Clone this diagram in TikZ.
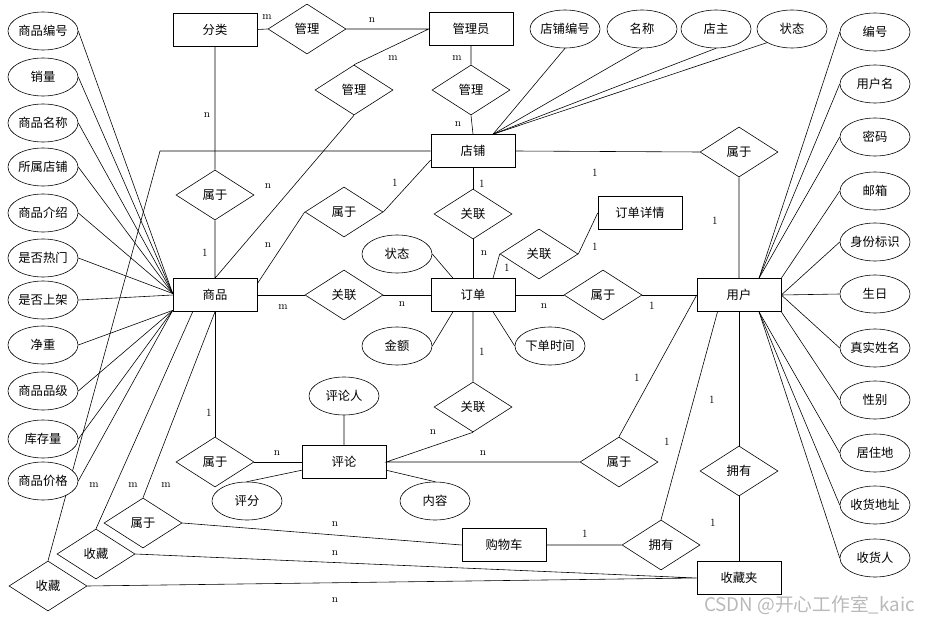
\documentclass[tikz,border=0pt]{standalone}
\usepackage{fontspec}
\newfontfamily\zhfont{Noto Sans CJK SC}
\usetikzlibrary{shapes.geometric}
\begin{document}
\begin{tikzpicture}[x=0.03cm, y=-0.03cm, line width=0.5pt,
    ent/.style={draw, fill=white, minimum width=2.52cm, minimum height=0.99cm, font=\zhfont\fontsize{10.5}{12}\selectfont},
    rel/.style={draw, diamond, fill=white, aspect=1.56, minimum width=2.34cm, minimum height=1.5cm, inner sep=0pt, font=\zhfont\fontsize{10.5}{12}\selectfont},
    attr/.style={draw, ellipse, fill=white, minimum width=2.1cm, minimum height=1.14cm, inner sep=0pt, font=\zhfont\fontsize{10.5}{12}\selectfont},
    lab/.style={font=\fontsize{9.5}{10}\selectfont, inner sep=0pt}]
  \useasboundingbox (0,0) rectangle (929,624);
  \foreach \x/\y/\t/\n in {215/29.5/分类/fenlei, 471/29/管理员/guanliyuan, 473/151/店铺/dianpu, 215/295/商品/shangpin, 473/295/订单/dingdan, 640/213/订单详情/xiangqing, 739/295/用户/yonghu, 344/462/评论/pinglun, 504/545/购物车/gouwuche, 739/578/收藏夹/shoucangjia}
    \node[ent] (\n) at (\x,\y) {\t};
  \foreach \x/\y/\t/\n in {307/29/管理/gl1, 354/90/管理/gl2, 471/90/管理/gl3, 215/195/属于/sy1, 344/212/属于/sy2, 473/214/关联/gx1, 539/254/关联/gx2, 344/295/关联/gx3, 603/295/属于/sy3, 739/152/属于/sy4, 473/407/关联/gx4, 215/462/属于/sy5, 619/462/属于/sy6, 739/471/拥有/yy1, 661/545/拥有/yy2, 143/523/属于/sy7, 96/554/收藏/sc1, 48/586/收藏/sc2}
    \node[rel] (\n) at (\x,\y) {\t};
  \coordinate (zj) at (160,151);
  \draw (dianpu.west) -- (zj) -- (sc2.north);
  \draw (fenlei.east) -- (gl1.west) (gl1.east) -- (guanliyuan.west) -- (gl2.north);
  \draw (guanliyuan.south) -- (gl3.north) (gl3.south) -- (dianpu.north);
  \draw (gl2.south) -- (shangpin.north) -- (sy1.south) (sy1.north) -- (fenlei.south);
  \draw (shangpin.15) -- (sy2.west) (sy2.east) -- (dianpu.192);
  \draw (dianpu.south) -- (gx1.north) (gx1.south) -- (dingdan.north);
  \draw (shangpin.east) -- (gx3.west) (gx3.east) -- (dingdan.west);
  \draw (dingdan.40) -- (gx2.west) (gx2.east) -- (xiangqing.west);
  \draw (dingdan.east) -- (sy3.west) (sy3.east) -- (yonghu.west);
  \draw (dianpu.east) -- (sy4.west) (sy4.south) -- (yonghu.north);
  \draw (dingdan.south) -- (gx4.north) (gx4.south) -- (pinglun.east) -- (sy6.west) (sy6.north) -- (yonghu.west);
  \draw (shangpin.south) -- (sy5.north) (sy5.east) -- (pinglun.west);
  \draw (yonghu.south) -- (yy1.north) (yy1.south) -- (shoucangjia.north);
  \draw (yonghu.218) -- (yy2.north) (yy2.west) -- (gouwuche.east);
  \draw (shangpin.south) -- (sy7.north) (sy7.east) -- (gouwuche.west);
  \draw (shangpin.217) -- (sc1.north) (sc1.east) -- (shoucangjia.west) (sc2.east) -- (shoucangjia.west);
  \foreach \y/\t/\a [count=\i] in {31/商品编号/178, 77/销量/178, 123/商品名称/178, 167/所属店铺/178, 213/商品介绍/178, 258/是否热门/178, 300/是否上架/180, 345/净重/200, 391/商品品级/200, 439/库存量/200, 481/商品价格/200} {
    \node[attr] (sa\i) at (43,\y) {\t};
    \draw (sa\i.east) -- (shangpin.\a);
  }
  \foreach \y/\t/\a [count=\i] in {32/编号/40, 84/用户名/40, 137/密码/40, 191/邮箱/north east, 242/身份标识/east, 294/生日/east, 348/真实姓名/east, 400/性别/south east, 453/居住地/-40, 505/收货地址/-40, 558/收货人/-40} {
    \node[attr] (ya\i) at (875,\y) {\t};
    \draw (ya\i.west) -- (yonghu.\a);
  }
  \foreach \x/\t/\a [count=\i] in {565/店铺编号/south, 642/名称/south, 716/店主/south, 792/状态/south west} {
    \node[attr] (da\i) at (\x,29) {\t};
    \draw (da\i.\a) -- (dianpu.40);
  }
  \node[attr] (ddzt) at (397,254) {状态};
  \node[attr] (ddje) at (397,346) {金额};
  \node[attr] (ddsj) at (550,346) {下单时间};
  \node[attr] (plr) at (344,396) {评论人};
  \node[attr] (plpf) at (247,501) {评分};
  \node[attr] (plnr) at (435,501) {内容};
  \draw (ddzt.east) -- (dingdan.140) (ddje.east) -- (dingdan.220) (ddsj.west) -- (dingdan.-40);
  \draw (plr.south) -- (pinglun.north) (plpf.north) -- (pinglun.191) (plnr.north) -- (pinglun.-11);
  \foreach \x/\y/\t [count=\i] in {267/17/m, 372/20/n, 393/58/m, 457/58/m, 458/124/n, 207/115/n, 268/186/n, 205/253/1, 268/245/n, 395/183/1, 482/184/1, 484/253/n, 507/268/1, 595/247/1, 595/173/1, 715/221/1, 283/307/m, 402/304/n, 544/306/n, 652/306/1, 482/352/1, 637/378/1, 712/400/1, 667/442/1, 713/523/1, 209/413/1, 277/453/n, 433/432/n, 483/453/n, 94/485/m, 133/485/m, 166/485/m, 335/524/n, 335/553/n, 335/600/n, 585/534/1}
    \node[lab] (k\i) at (\x,\y) {\t};
  \node[text=gray!55, font=\zhfont\fontsize{16}{18}\selectfont, anchor=east, inner sep=0pt] (wm) at (915,605) {CSDN @开心工作室\_kaic};
\end{tikzpicture}
\end{document}
